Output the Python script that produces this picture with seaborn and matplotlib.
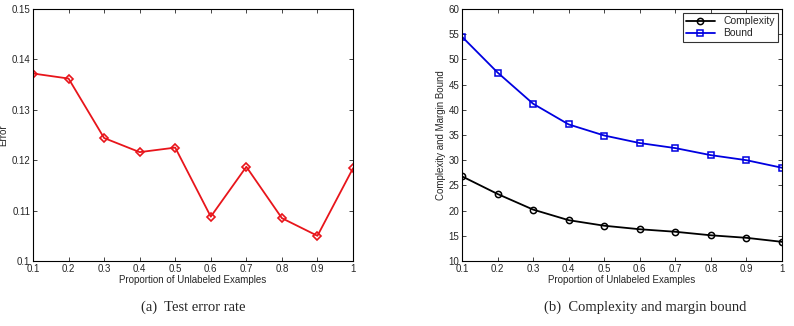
import matplotlib
matplotlib.use("Agg")
import matplotlib.pyplot as plt
import seaborn as sns
import pandas as pd

proportion = [0.1, 0.2, 0.3, 0.4, 0.5, 0.6, 0.7, 0.8, 0.9, 1.0]
error = [0.1372, 0.1362, 0.1244, 0.1216, 0.1225, 0.1088, 0.1187, 0.1085, 0.1050, 0.1184]
complexity = [26.8, 23.3, 20.2, 18.1, 17.0, 16.3, 15.8, 15.1, 14.6, 13.8]
bound = [54.5, 47.4, 41.2, 37.1, 34.9, 33.4, 32.4, 31.0, 30.0, 28.5]
xticks = [0.1, 0.2, 0.3, 0.4, 0.5, 0.6, 0.7, 0.8, 0.9, 1.0]
xticklabels = ["0.1", "0.2", "0.3", "0.4", "0.5", "0.6", "0.7", "0.8", "0.9", "1"]

sns.set_style("ticks")
plt.rcParams['font.family'] = ['Liberation Sans', 'DejaVu Sans']

fig = plt.figure(figsize=(7.94, 3.26), dpi=100)
W, H = 794, 326
ax1 = fig.add_axes([33 / W, 1 - 261 / H, 320 / W, 252 / H])
ax2 = fig.add_axes([462 / W, 1 - 261 / H, 320 / W, 252 / H])

df1 = pd.DataFrame({"x": proportion, "Error": error})
sns.lineplot(data=df1, x="x", y="Error", ax=ax1, color="#e8151b", marker="D",
             markersize=4, markerfacecolor="none", markeredgecolor="#e8151b",
             markeredgewidth=1.2, linewidth=1.3)
ax1.set_xlim(0.1, 1.0)
ax1.set_ylim(0.1, 0.15)
ax1.set_yticks([0.1, 0.11, 0.12, 0.13, 0.14, 0.15])
ax1.set_yticklabels(["0.1", "0.11", "0.12", "0.13", "0.14", "0.15"])
ax1.set_ylabel("Error", fontsize=7, labelpad=2)

df2 = pd.DataFrame({"x": proportion * 2,
                    "value": complexity + bound,
                    "series": ["Complexity"] * len(complexity) + ["Bound"] * len(bound)})
sns.lineplot(data=df2, x="x", y="value", hue="series", style="series",
             markers={"Complexity": "o", "Bound": "s"}, dashes=False,
             palette={"Complexity": "black", "Bound": "#0000e0"},
             ax=ax2, markersize=4.5, markerfacecolor="none", markeredgewidth=1.1,
             linewidth=1.3)
for line in ax2.lines:
    line.set_markeredgecolor(line.get_color())
    line.set_markerfacecolor("none")
ax2.set_xlim(0.1, 1.0)
ax2.set_ylim(10, 60)
ax2.set_yticks(range(10, 61, 5))
ax2.set_ylabel("Complexity and Margin Bound", fontsize=7, labelpad=2)
leg = ax2.legend(loc="upper right", fontsize=7.5, frameon=True, fancybox=False,
                 edgecolor="black", borderpad=0.3, handlelength=2.8,
                 labelspacing=0.2, borderaxespad=0.4)
leg.get_frame().set_linewidth(0.8)
for h in leg.get_lines():
    h.set_markerfacecolor("none")
    h.set_markeredgecolor(h.get_color())

for ax in (ax1, ax2):
    ax.set_xticks(xticks)
    ax.set_xticklabels(xticklabels)
    ax.set_xlabel("Proportion of Unlabeled Examples", fontsize=7, labelpad=1)
    ax.tick_params(direction="in", length=3, width=0.6, labelsize=7, pad=2,
                   top=True, right=True)
    for s in ax.spines.values():
        s.set_visible(True)
        s.set_linewidth(0.8)
        s.set_color("black")

fig.text(193 / W, 1 - 307 / H, "(a)  Test error rate", ha="center", va="center",
         fontsize=10.5, family=["Liberation Serif", "DejaVu Serif"])
fig.text(645 / W, 1 - 307 / H, "(b)  Complexity and margin bound", ha="center",
         va="center", fontsize=10.5, family=["Liberation Serif", "DejaVu Serif"])

fig.savefig("out.png", dpi=100)
